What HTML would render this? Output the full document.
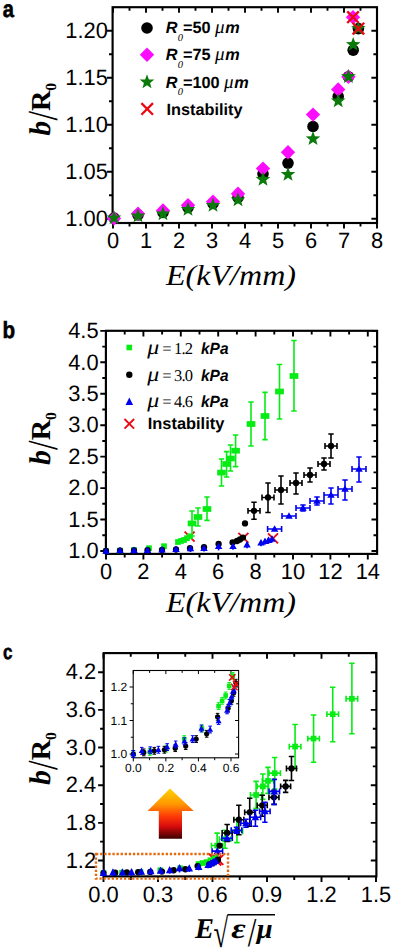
<!DOCTYPE html>
<html lang="en"><head><meta charset="utf-8"><title>Figure</title>
<style>html,body{margin:0;padding:0;background:#fff}svg{display:block;text-rendering:geometricPrecision}</style></head><body>
<svg width="400" height="951" viewBox="0 0 400 951">
<defs><linearGradient id="ag" x1="0" y1="0" x2="0" y2="1"><stop offset="0" stop-color="#ffd200"/><stop offset="0.30" stop-color="#ff9a00"/><stop offset="0.55" stop-color="#ff3a08"/><stop offset="0.75" stop-color="#d80c0c"/><stop offset="1" stop-color="#3a0000"/></linearGradient></defs>
<rect width="400" height="951" fill="#fff"/>
<!-- panel a -->
<text x="2.8" y="17" font-family='"Liberation Sans", sans-serif' font-size="23.5" text-anchor="start" font-weight="bold" font-style="normal" textLength="11.2" lengthAdjust="spacingAndGlyphs" stroke="#000" stroke-width="0.55">a</text>
<rect x="112.6" y="7.2" width="264.4" height="215.8" fill="none" stroke="#000" stroke-width="2.15"/>
<path d="M113 223v5.6M113 7.2v5.6M146 223v5.6M146 7.2v5.6M179 223v5.6M179 7.2v5.6M212 223v5.6M212 7.2v5.6M245 223v5.6M245 7.2v5.6M278 223v5.6M278 7.2v5.6M311 223v5.6M311 7.2v5.6M344 223v5.6M344 7.2v5.6M377 223v5.6M377 7.2v5.6M129.5 223v3.6M129.5 7.2v3.6M162.5 223v3.6M162.5 7.2v3.6M195.5 223v3.6M195.5 7.2v3.6M228.5 223v3.6M228.5 7.2v3.6M261.5 223v3.6M261.5 7.2v3.6M294.5 223v3.6M294.5 7.2v3.6M327.5 223v3.6M327.5 7.2v3.6M360.5 223v3.6M360.5 7.2v3.6M112.6 218.75h-5.6M377 218.75h-5.6M112.6 171.75h-5.6M377 171.75h-5.6M112.6 124.75h-5.6M377 124.75h-5.6M112.6 77.75h-5.6M377 77.75h-5.6M112.6 30.75h-5.6M377 30.75h-5.6M112.6 195.25h-3.6M377 195.25h-3.6M112.6 148.25h-3.6M377 148.25h-3.6M112.6 101.25h-3.6M377 101.25h-3.6M112.6 54.25h-3.6M377 54.25h-3.6" stroke="#000" stroke-width="1.9" fill="none"/>
<text x="113" y="248.3" font-family='"Liberation Sans", sans-serif' font-size="22.2" text-anchor="middle" font-weight="normal" font-style="normal" textLength="12.16" lengthAdjust="spacingAndGlyphs">0</text>
<text x="146" y="248.3" font-family='"Liberation Sans", sans-serif' font-size="22.2" text-anchor="middle" font-weight="normal" font-style="normal" textLength="12.16" lengthAdjust="spacingAndGlyphs">1</text>
<text x="179" y="248.3" font-family='"Liberation Sans", sans-serif' font-size="22.2" text-anchor="middle" font-weight="normal" font-style="normal" textLength="12.16" lengthAdjust="spacingAndGlyphs">2</text>
<text x="212" y="248.3" font-family='"Liberation Sans", sans-serif' font-size="22.2" text-anchor="middle" font-weight="normal" font-style="normal" textLength="12.16" lengthAdjust="spacingAndGlyphs">3</text>
<text x="245" y="248.3" font-family='"Liberation Sans", sans-serif' font-size="22.2" text-anchor="middle" font-weight="normal" font-style="normal" textLength="12.16" lengthAdjust="spacingAndGlyphs">4</text>
<text x="278" y="248.3" font-family='"Liberation Sans", sans-serif' font-size="22.2" text-anchor="middle" font-weight="normal" font-style="normal" textLength="12.16" lengthAdjust="spacingAndGlyphs">5</text>
<text x="311" y="248.3" font-family='"Liberation Sans", sans-serif' font-size="22.2" text-anchor="middle" font-weight="normal" font-style="normal" textLength="12.16" lengthAdjust="spacingAndGlyphs">6</text>
<text x="344" y="248.3" font-family='"Liberation Sans", sans-serif' font-size="22.2" text-anchor="middle" font-weight="normal" font-style="normal" textLength="12.16" lengthAdjust="spacingAndGlyphs">7</text>
<text x="377" y="248.3" font-family='"Liberation Sans", sans-serif' font-size="22.2" text-anchor="middle" font-weight="normal" font-style="normal" textLength="12.16" lengthAdjust="spacingAndGlyphs">8</text>
<text x="107.8" y="225.95" font-family='"Liberation Sans", sans-serif' font-size="22.2" text-anchor="end" font-weight="normal" font-style="normal" textLength="42.55" lengthAdjust="spacingAndGlyphs">1.00</text>
<text x="107.8" y="178.95" font-family='"Liberation Sans", sans-serif' font-size="22.2" text-anchor="end" font-weight="normal" font-style="normal" textLength="42.55" lengthAdjust="spacingAndGlyphs">1.05</text>
<text x="107.8" y="131.95" font-family='"Liberation Sans", sans-serif' font-size="22.2" text-anchor="end" font-weight="normal" font-style="normal" textLength="42.55" lengthAdjust="spacingAndGlyphs">1.10</text>
<text x="107.8" y="84.95" font-family='"Liberation Sans", sans-serif' font-size="22.2" text-anchor="end" font-weight="normal" font-style="normal" textLength="42.55" lengthAdjust="spacingAndGlyphs">1.15</text>
<text x="107.8" y="37.95" font-family='"Liberation Sans", sans-serif' font-size="22.2" text-anchor="end" font-weight="normal" font-style="normal" textLength="42.55" lengthAdjust="spacingAndGlyphs">1.20</text>
<g transform="translate(49.6 108.7) rotate(-90)"><text x="-27" y="0" font-family='"Liberation Serif", serif' font-size="30" text-anchor="start" font-weight="bold" font-style="italic">b</text><text x="-11.9" y="7" font-family='"Liberation Serif", serif' font-size="42.7" text-anchor="start" font-weight="normal" font-style="normal" textLength="9.6" lengthAdjust="spacingAndGlyphs">/</text><text x="-2.2" y="0" font-family='"Liberation Serif", serif' font-size="27.5" text-anchor="start" font-weight="bold" font-style="normal" textLength="20.5" lengthAdjust="spacingAndGlyphs">R</text><text x="18" y="6.4" font-family='"Liberation Serif", serif' font-size="15.5" text-anchor="start" font-weight="bold" font-style="normal">0</text></g>
<text x="166" y="284.5" font-family='"Liberation Serif", serif' font-size="29" text-anchor="start" font-weight="normal" font-style="italic" textLength="130" lengthAdjust="spacingAndGlyphs">E(kV/mm)</text>
<circle cx="114" cy="218" r="5.8" fill="#000000"/>
<circle cx="138" cy="215" r="5.8" fill="#000000"/>
<circle cx="163" cy="212.5" r="5.8" fill="#000000"/>
<circle cx="188" cy="207.5" r="5.8" fill="#000000"/>
<circle cx="213" cy="203.5" r="5.8" fill="#000000"/>
<circle cx="238" cy="197.5" r="5.8" fill="#000000"/>
<circle cx="263" cy="173.8" r="5.8" fill="#000000"/>
<circle cx="288" cy="163.1" r="5.8" fill="#000000"/>
<circle cx="313" cy="126.5" r="5.8" fill="#000000"/>
<circle cx="338.2" cy="96.5" r="5.8" fill="#000000"/>
<circle cx="348.4" cy="76.7" r="5.8" fill="#000000"/>
<circle cx="353.2" cy="50.2" r="5.8" fill="#000000"/>
<circle cx="358.4" cy="28.6" r="5.8" fill="#000000"/>
<path d="M114 211.2L121.2 218.4L114 225.6L106.8 218.4Z" fill="#fc0cfc"/>
<path d="M138 206.6L145.2 213.8L138 221L130.8 213.8Z" fill="#fc0cfc"/>
<path d="M163 203.2L170.2 210.4L163 217.6L155.8 210.4Z" fill="#fc0cfc"/>
<path d="M188 198.1L195.2 205.3L188 212.5L180.8 205.3Z" fill="#fc0cfc"/>
<path d="M213 194.6L220.2 201.8L213 209L205.8 201.8Z" fill="#fc0cfc"/>
<path d="M238 186.6L245.2 193.8L238 201L230.8 193.8Z" fill="#fc0cfc"/>
<path d="M263 161.4L270.2 168.6L263 175.8L255.8 168.6Z" fill="#fc0cfc"/>
<path d="M288 145L295.2 152.2L288 159.4L280.8 152.2Z" fill="#fc0cfc"/>
<path d="M313 107.4L320.2 114.6L313 121.8L305.8 114.6Z" fill="#fc0cfc"/>
<path d="M338.2 82.3L345.4 89.5L338.2 96.7L331 89.5Z" fill="#fc0cfc"/>
<path d="M348.4 69.5L355.6 76.7L348.4 83.9L341.2 76.7Z" fill="#fc0cfc"/>
<path d="M353 10L360.2 17.2L353 24.4L345.8 17.2Z" fill="#fc0cfc"/>
<path d="M114 210.3L115.9 215.38L121.32 215.62L117.08 219L118.53 224.23L114 221.23L109.47 224.23L110.92 219L106.68 215.62L112.1 215.38Z" fill="#0a7a0a"/>
<path d="M138 208.3L139.9 213.38L145.32 213.62L141.08 217L142.53 222.23L138 219.23L133.47 222.23L134.92 217L130.68 213.62L136.1 213.38Z" fill="#0a7a0a"/>
<path d="M163 206.3L164.9 211.38L170.32 211.62L166.08 215L167.53 220.23L163 217.23L158.47 220.23L159.92 215L155.68 211.62L161.1 211.38Z" fill="#0a7a0a"/>
<path d="M188 201.8L189.9 206.88L195.32 207.12L191.08 210.5L192.53 215.73L188 212.73L183.47 215.73L184.92 210.5L180.68 207.12L186.1 206.88Z" fill="#0a7a0a"/>
<path d="M213 197.8L214.9 202.88L220.32 203.12L216.08 206.5L217.53 211.73L213 208.73L208.47 211.73L209.92 206.5L205.68 203.12L211.1 202.88Z" fill="#0a7a0a"/>
<path d="M238 192.3L239.9 197.38L245.32 197.62L241.08 201L242.53 206.23L238 203.23L233.47 206.23L234.92 201L230.68 197.62L236.1 197.38Z" fill="#0a7a0a"/>
<path d="M263 171.7L264.9 176.78L270.32 177.02L266.08 180.4L267.53 185.63L263 182.63L258.47 185.63L259.92 180.4L255.68 177.02L261.1 176.78Z" fill="#0a7a0a"/>
<path d="M288 166.8L289.9 171.88L295.32 172.12L291.08 175.5L292.53 180.73L288 177.73L283.47 180.73L284.92 175.5L280.68 172.12L286.1 171.88Z" fill="#0a7a0a"/>
<path d="M313 131.1L314.9 136.18L320.32 136.42L316.08 139.8L317.53 145.03L313 142.03L308.47 145.03L309.92 139.8L305.68 136.42L311.1 136.18Z" fill="#0a7a0a"/>
<path d="M338.2 93.3L340.1 98.38L345.52 98.62L341.28 102L342.73 107.23L338.2 104.23L333.67 107.23L335.12 102L330.88 98.62L336.3 98.38Z" fill="#0a7a0a"/>
<path d="M348.4 69L350.3 74.08L355.72 74.32L351.48 77.7L352.93 82.93L348.4 79.93L343.87 82.93L345.32 77.7L341.08 74.32L346.5 74.08Z" fill="#0a7a0a"/>
<path d="M353.2 36.9L355.1 41.98L360.52 42.22L356.28 45.6L357.73 50.83L353.2 47.83L348.67 50.83L350.12 45.6L345.88 42.22L351.3 41.98Z" fill="#0a7a0a"/>
<path d="M358.4 20.9L360.3 25.98L365.72 26.22L361.48 29.6L362.93 34.83L358.4 31.83L353.87 34.83L355.32 29.6L351.08 26.22L356.5 25.98Z" fill="#0a7a0a"/>
<path d="M347.2 11.4L358.8 23M347.2 23L358.8 11.4" stroke="#ea0a14" stroke-width="2.3" fill="none" stroke-linecap="butt"/>
<path d="M352.6 22.8L364.2 34.4M352.6 34.4L364.2 22.8" stroke="#ea0a14" stroke-width="2.3" fill="none" stroke-linecap="butt"/>
<circle cx="147" cy="28" r="5.8" fill="#000000"/>
<path d="M147 47.6L154.2 54.8L147 62L139.8 54.8Z" fill="#fc0cfc"/>
<path d="M147 74.3L148.9 79.38L154.32 79.62L150.08 83L151.53 88.23L147 85.23L142.47 88.23L143.92 83L139.68 79.62L145.1 79.38Z" fill="#0a7a0a"/>
<path d="M141.4 103.1L153 114.7M141.4 114.7L153 103.1" stroke="#ea0a14" stroke-width="2.3" fill="none" stroke-linecap="butt"/>
<text x="165.8" y="33.4" font-family='"Liberation Sans", sans-serif' font-size="16.3" text-anchor="start" font-weight="bold" font-style="italic">R</text><text x="177.8" y="40.8" font-family='"Liberation Serif", serif' font-size="10.5" text-anchor="start" font-weight="normal" font-style="italic">0</text><text x="183" y="33.4" font-family='"Liberation Sans", sans-serif' font-size="16.3" text-anchor="start" font-weight="bold" font-style="normal">=50</text><text x="215" y="33.4" font-family='"Liberation Serif", serif' font-size="19" text-anchor="start" font-weight="normal" font-style="italic">μ</text><text x="225.3" y="33.4" font-family='"Liberation Sans", sans-serif' font-size="16.3" text-anchor="start" font-weight="bold" font-style="italic">m</text>
<text x="165.8" y="60.4" font-family='"Liberation Sans", sans-serif' font-size="16.3" text-anchor="start" font-weight="bold" font-style="italic">R</text><text x="177.8" y="67.8" font-family='"Liberation Serif", serif' font-size="10.5" text-anchor="start" font-weight="normal" font-style="italic">0</text><text x="183" y="60.4" font-family='"Liberation Sans", sans-serif' font-size="16.3" text-anchor="start" font-weight="bold" font-style="normal">=75</text><text x="215" y="60.4" font-family='"Liberation Serif", serif' font-size="19" text-anchor="start" font-weight="normal" font-style="italic">μ</text><text x="225.3" y="60.4" font-family='"Liberation Sans", sans-serif' font-size="16.3" text-anchor="start" font-weight="bold" font-style="italic">m</text>
<text x="165.8" y="88" font-family='"Liberation Sans", sans-serif' font-size="16.3" text-anchor="start" font-weight="bold" font-style="italic">R</text><text x="177.8" y="95.4" font-family='"Liberation Serif", serif' font-size="10.5" text-anchor="start" font-weight="normal" font-style="italic">0</text><text x="183" y="88" font-family='"Liberation Sans", sans-serif' font-size="16.3" text-anchor="start" font-weight="bold" font-style="normal">=100</text><text x="224" y="88" font-family='"Liberation Serif", serif' font-size="19" text-anchor="start" font-weight="normal" font-style="italic">μ</text><text x="234.3" y="88" font-family='"Liberation Sans", sans-serif' font-size="16.3" text-anchor="start" font-weight="bold" font-style="italic">m</text>
<text x="166.5" y="114.6" font-family='"Liberation Sans", sans-serif' font-size="16.3" text-anchor="start" font-weight="bold" font-style="normal">Instability</text>
<!-- panel b -->
<text x="2.6" y="338" font-family='"Liberation Sans", sans-serif' font-size="23.5" text-anchor="start" font-weight="bold" font-style="normal" textLength="12.6" lengthAdjust="spacingAndGlyphs" stroke="#000" stroke-width="0.55">b</text>
<rect x="105.9" y="330.8" width="271.2" height="223.1" fill="none" stroke="#000" stroke-width="2.15"/>
<path d="M106 553.9v5.6M106 330.8v5.6M143.4 553.9v5.6M143.4 330.8v5.6M180.8 553.9v5.6M180.8 330.8v5.6M218.2 553.9v5.6M218.2 330.8v5.6M255.6 553.9v5.6M255.6 330.8v5.6M293 553.9v5.6M293 330.8v5.6M330.4 553.9v5.6M330.4 330.8v5.6M367.8 553.9v5.6M367.8 330.8v5.6M124.7 553.9v3.6M124.7 330.8v3.6M162.1 553.9v3.6M162.1 330.8v3.6M199.5 553.9v3.6M199.5 330.8v3.6M236.9 553.9v3.6M236.9 330.8v3.6M274.3 553.9v3.6M274.3 330.8v3.6M311.7 553.9v3.6M311.7 330.8v3.6M349.1 553.9v3.6M349.1 330.8v3.6M105.9 551h-5.6M377.1 551h-5.6M105.9 519.55h-5.6M377.1 519.55h-5.6M105.9 488.1h-5.6M377.1 488.1h-5.6M105.9 456.65h-5.6M377.1 456.65h-5.6M105.9 425.2h-5.6M377.1 425.2h-5.6M105.9 393.75h-5.6M377.1 393.75h-5.6M105.9 362.3h-5.6M377.1 362.3h-5.6M105.9 330.85h-5.6M377.1 330.85h-5.6M105.9 535.27h-3.6M377.1 535.27h-3.6M105.9 503.82h-3.6M377.1 503.82h-3.6M105.9 472.38h-3.6M377.1 472.38h-3.6M105.9 440.93h-3.6M377.1 440.93h-3.6M105.9 409.48h-3.6M377.1 409.48h-3.6M105.9 378.02h-3.6M377.1 378.02h-3.6M105.9 346.58h-3.6M377.1 346.58h-3.6" stroke="#000" stroke-width="1.9" fill="none"/>
<text x="106" y="579.2" font-family='"Liberation Sans", sans-serif' font-size="22.2" text-anchor="middle" font-weight="normal" font-style="normal" textLength="12.16" lengthAdjust="spacingAndGlyphs">0</text>
<text x="143.4" y="579.2" font-family='"Liberation Sans", sans-serif' font-size="22.2" text-anchor="middle" font-weight="normal" font-style="normal" textLength="12.16" lengthAdjust="spacingAndGlyphs">2</text>
<text x="180.8" y="579.2" font-family='"Liberation Sans", sans-serif' font-size="22.2" text-anchor="middle" font-weight="normal" font-style="normal" textLength="12.16" lengthAdjust="spacingAndGlyphs">4</text>
<text x="218.2" y="579.2" font-family='"Liberation Sans", sans-serif' font-size="22.2" text-anchor="middle" font-weight="normal" font-style="normal" textLength="12.16" lengthAdjust="spacingAndGlyphs">6</text>
<text x="255.6" y="579.2" font-family='"Liberation Sans", sans-serif' font-size="22.2" text-anchor="middle" font-weight="normal" font-style="normal" textLength="12.16" lengthAdjust="spacingAndGlyphs">8</text>
<text x="293" y="579.2" font-family='"Liberation Sans", sans-serif' font-size="22.2" text-anchor="middle" font-weight="normal" font-style="normal" textLength="24.32" lengthAdjust="spacingAndGlyphs">10</text>
<text x="330.4" y="579.2" font-family='"Liberation Sans", sans-serif' font-size="22.2" text-anchor="middle" font-weight="normal" font-style="normal" textLength="24.32" lengthAdjust="spacingAndGlyphs">12</text>
<text x="367.8" y="579.2" font-family='"Liberation Sans", sans-serif' font-size="22.2" text-anchor="middle" font-weight="normal" font-style="normal" textLength="24.32" lengthAdjust="spacingAndGlyphs">14</text>
<text x="98.6" y="558.2" font-family='"Liberation Sans", sans-serif' font-size="22.2" text-anchor="end" font-weight="normal" font-style="normal" textLength="30.4" lengthAdjust="spacingAndGlyphs">1.0</text>
<text x="98.6" y="526.75" font-family='"Liberation Sans", sans-serif' font-size="22.2" text-anchor="end" font-weight="normal" font-style="normal" textLength="30.4" lengthAdjust="spacingAndGlyphs">1.5</text>
<text x="98.6" y="495.3" font-family='"Liberation Sans", sans-serif' font-size="22.2" text-anchor="end" font-weight="normal" font-style="normal" textLength="30.4" lengthAdjust="spacingAndGlyphs">2.0</text>
<text x="98.6" y="463.85" font-family='"Liberation Sans", sans-serif' font-size="22.2" text-anchor="end" font-weight="normal" font-style="normal" textLength="30.4" lengthAdjust="spacingAndGlyphs">2.5</text>
<text x="98.6" y="432.4" font-family='"Liberation Sans", sans-serif' font-size="22.2" text-anchor="end" font-weight="normal" font-style="normal" textLength="30.4" lengthAdjust="spacingAndGlyphs">3.0</text>
<text x="98.6" y="400.95" font-family='"Liberation Sans", sans-serif' font-size="22.2" text-anchor="end" font-weight="normal" font-style="normal" textLength="30.4" lengthAdjust="spacingAndGlyphs">3.5</text>
<text x="98.6" y="369.5" font-family='"Liberation Sans", sans-serif' font-size="22.2" text-anchor="end" font-weight="normal" font-style="normal" textLength="30.4" lengthAdjust="spacingAndGlyphs">4.0</text>
<text x="98.6" y="338.05" font-family='"Liberation Sans", sans-serif' font-size="22.2" text-anchor="end" font-weight="normal" font-style="normal" textLength="30.4" lengthAdjust="spacingAndGlyphs">4.5</text>
<g transform="translate(49.6 438) rotate(-90)"><text x="-27" y="0" font-family='"Liberation Serif", serif' font-size="30" text-anchor="start" font-weight="bold" font-style="italic">b</text><text x="-11.9" y="7" font-family='"Liberation Serif", serif' font-size="42.7" text-anchor="start" font-weight="normal" font-style="normal" textLength="9.6" lengthAdjust="spacingAndGlyphs">/</text><text x="-2.2" y="0" font-family='"Liberation Serif", serif' font-size="27.5" text-anchor="start" font-weight="bold" font-style="normal" textLength="20.5" lengthAdjust="spacingAndGlyphs">R</text><text x="18" y="6.4" font-family='"Liberation Serif", serif' font-size="15.5" text-anchor="start" font-weight="bold" font-style="normal">0</text></g>
<text x="166" y="612" font-family='"Liberation Serif", serif' font-size="29" text-anchor="start" font-weight="normal" font-style="italic" textLength="130" lengthAdjust="spacingAndGlyphs">E(kV/mm)</text>
<path d="M184.6 531.6L194.6 541.6M184.6 541.6L194.6 531.6" stroke="#ea0a14" stroke-width="1.9" fill="none" stroke-linecap="butt"/>
<path d="M238.4 532.8L248.4 542.8M238.4 542.8L248.4 532.8" stroke="#ea0a14" stroke-width="1.9" fill="none" stroke-linecap="butt"/>
<path d="M268 533.4L278 543.4M268 543.4L278 533.4" stroke="#ea0a14" stroke-width="1.9" fill="none" stroke-linecap="butt"/>
<rect x="103.15" y="548.15" width="5.7" height="5.7" fill="#06ec14"/><rect x="117.15" y="547.75" width="5.7" height="5.7" fill="#06ec14"/><rect x="131.15" y="547.15" width="5.7" height="5.7" fill="#06ec14"/><rect x="146.15" y="545.35" width="5.7" height="5.7" fill="#06ec14"/><rect x="161.15" y="543.35" width="5.7" height="5.7" fill="#06ec14"/><rect x="175.15" y="539.15" width="5.7" height="5.7" fill="#06ec14"/><rect x="178.15" y="538.15" width="5.7" height="5.7" fill="#06ec14"/><rect x="181.15" y="537.15" width="5.7" height="5.7" fill="#06ec14"/><rect x="184.15" y="535.35" width="5.7" height="5.7" fill="#06ec14"/><rect x="187.15" y="533.45" width="5.7" height="5.7" fill="#06ec14"/><path d="M192 511L192 536M189.3 511L194.7 511M189.3 536L194.7 536" stroke="#06ec14" stroke-width="1.6" fill="none"/><rect x="187.7" y="520.55" width="8.6" height="5.7" fill="#06ec14"/><path d="M198 508L198 526M195.3 508L200.7 508M195.3 526L200.7 526" stroke="#06ec14" stroke-width="1.6" fill="none"/><rect x="193.7" y="514.15" width="8.6" height="5.7" fill="#06ec14"/><path d="M207 497L207 520.4M204.3 497L209.7 497M204.3 520.4L209.7 520.4" stroke="#06ec14" stroke-width="1.6" fill="none"/><rect x="202.7" y="506.15" width="8.6" height="5.7" fill="#06ec14"/><path d="M221.5 459L221.5 486M218.8 459L224.2 459M218.8 486L224.2 486" stroke="#06ec14" stroke-width="1.6" fill="none"/><rect x="217.2" y="469.75" width="8.6" height="5.7" fill="#06ec14"/><path d="M226.6 451.6L226.6 477M223.9 451.6L229.3 451.6M223.9 477L229.3 477" stroke="#06ec14" stroke-width="1.6" fill="none"/><rect x="222.3" y="461.15" width="8.6" height="5.7" fill="#06ec14"/><path d="M230.5 445L230.5 471M227.8 445L233.2 445M227.8 471L233.2 471" stroke="#06ec14" stroke-width="1.6" fill="none"/><rect x="226.2" y="455.65" width="8.6" height="5.7" fill="#06ec14"/><path d="M235.6 435L235.6 466.6M232.9 435L238.3 435M232.9 466.6L238.3 466.6" stroke="#06ec14" stroke-width="1.6" fill="none"/><rect x="231.3" y="447.85" width="8.6" height="5.7" fill="#06ec14"/><path d="M251 402L251 446M248.3 402L253.7 402M248.3 446L253.7 446" stroke="#06ec14" stroke-width="1.6" fill="none"/><rect x="246.6" y="421.15" width="8.8" height="5.7" fill="#06ec14"/><path d="M265 392.4L265 439.6M262.3 392.4L267.7 392.4M262.3 439.6L267.7 439.6" stroke="#06ec14" stroke-width="1.6" fill="none"/><rect x="260.6" y="413.15" width="8.8" height="5.7" fill="#06ec14"/><path d="M279.5 364.5L279.5 419M276.8 364.5L282.2 364.5M276.8 419L282.2 419" stroke="#06ec14" stroke-width="1.6" fill="none"/><rect x="275.1" y="388.65" width="8.8" height="5.7" fill="#06ec14"/><path d="M294 340.5L294 411M291.3 340.5L296.7 340.5M291.3 411L296.7 411" stroke="#06ec14" stroke-width="1.6" fill="none"/><rect x="289.6" y="373.15" width="8.8" height="5.7" fill="#06ec14"/>
<circle cx="106" cy="551" r="3.15" fill="#000000"/><circle cx="120" cy="550.7" r="3.15" fill="#000000"/><circle cx="134" cy="550.4" r="3.15" fill="#000000"/><circle cx="147.5" cy="550.2" r="3.15" fill="#000000"/><circle cx="162" cy="549.9" r="3.15" fill="#000000"/><circle cx="176" cy="549.5" r="3.15" fill="#000000"/><circle cx="190" cy="548.2" r="3.15" fill="#000000"/><circle cx="204" cy="547.2" r="3.15" fill="#000000"/><circle cx="218.6" cy="544" r="3.15" fill="#000000"/><circle cx="232.6" cy="542.4" r="3.15" fill="#000000"/><circle cx="237" cy="541" r="3.15" fill="#000000"/><circle cx="240" cy="539.5" r="3.15" fill="#000000"/><circle cx="243" cy="537.6" r="3.15" fill="#000000"/><circle cx="245" cy="523.4" r="3.15" fill="#000000"/><path d="M254 502.3L254 519.3M251.3 502.3L256.7 502.3M251.3 519.3L256.7 519.3M248 510.8L260 510.8M248 507.88L248 513.72M260 507.88L260 513.72" stroke="#000000" stroke-width="1.6" fill="none"/><circle cx="254" cy="510.8" r="3.15" fill="#000000"/><path d="M268 483L268 512.5M265.3 483L270.7 483M265.3 512.5L270.7 512.5M262 497.5L274 497.5M262 494.58L262 500.42M274 494.58L274 500.42" stroke="#000000" stroke-width="1.6" fill="none"/><circle cx="268" cy="497.5" r="3.15" fill="#000000"/><path d="M281 476L281 504M278.3 476L283.7 476M278.3 504L283.7 504M275 490L287 490M275 487.08L275 492.92M287 487.08L287 492.92" stroke="#000000" stroke-width="1.6" fill="none"/><circle cx="281" cy="490" r="3.15" fill="#000000"/><path d="M296 473L296 494M293.3 473L298.7 473M293.3 494L298.7 494M290 483L302 483M290 480.08L290 485.92M302 480.08L302 485.92" stroke="#000000" stroke-width="1.6" fill="none"/><circle cx="296" cy="483" r="3.15" fill="#000000"/><path d="M310 468L310 482M307.3 468L312.7 468M307.3 482L312.7 482M304 475L316 475M304 472.08L304 477.92M316 472.08L316 477.92" stroke="#000000" stroke-width="1.6" fill="none"/><circle cx="310" cy="475" r="3.15" fill="#000000"/><path d="M324 458L324 470M321.3 458L326.7 458M321.3 470L326.7 470M318 464L330 464M318 461.08L318 466.92M330 461.08L330 466.92" stroke="#000000" stroke-width="1.6" fill="none"/><circle cx="324" cy="464" r="3.15" fill="#000000"/><path d="M331 434L331 458M328.3 434L333.7 434M328.3 458L333.7 458M325 446L337 446M325 443.08L325 448.92M337 443.08L337 448.92" stroke="#000000" stroke-width="1.6" fill="none"/><circle cx="331" cy="446" r="3.15" fill="#000000"/>
<path d="M106 548.4L106 554.4M106 548.4L106 548.4M106 554.4L106 554.4" stroke="#0000f0" stroke-width="1.6" fill="none"/><path d="M106 547.29L109.75 553.69L102.25 553.69Z" fill="#0000f0"/><path d="M120 547.8L120 553.8M120 547.8L120 547.8M120 553.8L120 553.8" stroke="#0000f0" stroke-width="1.6" fill="none"/><path d="M120 546.69L123.75 553.09L116.25 553.09Z" fill="#0000f0"/><path d="M134 547.7L134 553.7M134 547.7L134 547.7M134 553.7L134 553.7" stroke="#0000f0" stroke-width="1.6" fill="none"/><path d="M134 546.59L137.75 552.99L130.25 552.99Z" fill="#0000f0"/><path d="M147.5 547.6L147.5 553.6M147.5 547.6L147.5 547.6M147.5 553.6L147.5 553.6" stroke="#0000f0" stroke-width="1.6" fill="none"/><path d="M147.5 546.49L151.25 552.89L143.75 552.89Z" fill="#0000f0"/><path d="M162 547.1L162 553.1M162 547.1L162 547.1M162 553.1L162 553.1" stroke="#0000f0" stroke-width="1.6" fill="none"/><path d="M162 545.99L165.75 552.39L158.25 552.39Z" fill="#0000f0"/><path d="M176 546.6L176 552.6M176 546.6L176 546.6M176 552.6L176 552.6" stroke="#0000f0" stroke-width="1.6" fill="none"/><path d="M176 545.49L179.75 551.89L172.25 551.89Z" fill="#0000f0"/><path d="M190.5 546L190.5 552M190.5 546L190.5 546M190.5 552L190.5 552" stroke="#0000f0" stroke-width="1.6" fill="none"/><path d="M190.5 544.89L194.25 551.29L186.75 551.29Z" fill="#0000f0"/><path d="M204 545.6L204 551.6M204 545.6L204 545.6M204 551.6L204 551.6" stroke="#0000f0" stroke-width="1.6" fill="none"/><path d="M204 544.49L207.75 550.89L200.25 550.89Z" fill="#0000f0"/><path d="M218.6 543.6L218.6 550.4M218.6 543.6L218.6 543.6M218.6 550.4L218.6 550.4" stroke="#0000f0" stroke-width="1.6" fill="none"/><path d="M218.6 542.49L222.35 548.89L214.85 548.89Z" fill="#0000f0"/><path d="M233 543.8L233 549.8M233 543.8L233 543.8M233 549.8L233 549.8" stroke="#0000f0" stroke-width="1.6" fill="none"/><path d="M233 542.69L236.75 549.09L229.25 549.09Z" fill="#0000f0"/><path d="M247 542.2L247 548.2M247 542.2L247 542.2M247 548.2L247 548.2" stroke="#0000f0" stroke-width="1.6" fill="none"/><path d="M247 541.09L250.75 547.49L243.25 547.49Z" fill="#0000f0"/><path d="M261 540.2L261 546.2M261 540.2L261 540.2M261 546.2L261 546.2" stroke="#0000f0" stroke-width="1.6" fill="none"/><path d="M261 539.09L264.75 545.49L257.25 545.49Z" fill="#0000f0"/><path d="M265 538.8L265 544.8M265 538.8L265 538.8M265 544.8L265 544.8" stroke="#0000f0" stroke-width="1.6" fill="none"/><path d="M265 537.69L268.75 544.09L261.25 544.09Z" fill="#0000f0"/><path d="M268.5 537.6L268.5 543.6M268.5 537.6L268.5 537.6M268.5 543.6L268.5 543.6" stroke="#0000f0" stroke-width="1.6" fill="none"/><path d="M268.5 536.49L272.25 542.89L264.75 542.89Z" fill="#0000f0"/><path d="M272 536.4L272 542.4M272 536.4L272 536.4M272 542.4L272 542.4" stroke="#0000f0" stroke-width="1.6" fill="none"/><path d="M272 535.29L275.75 541.69L268.25 541.69Z" fill="#0000f0"/><path d="M267.6 529L281.6 529M267.6 526.08L267.6 531.92M281.6 526.08L281.6 531.92" stroke="#0000f0" stroke-width="1.6" fill="none"/><path d="M274.6 525.29L278.35 531.69L270.85 531.69Z" fill="#0000f0"/><path d="M282 516L296 516M282 513.08L282 518.92M296 513.08L296 518.92" stroke="#0000f0" stroke-width="1.6" fill="none"/><path d="M289 512.29L292.75 518.69L285.25 518.69Z" fill="#0000f0"/><path d="M303 505L303 511M300.3 505L305.7 505M300.3 511L305.7 511M296 508L310 508M296 505.08L296 510.92M310 505.08L310 510.92" stroke="#0000f0" stroke-width="1.6" fill="none"/><path d="M303 504.29L306.75 510.69L299.25 510.69Z" fill="#0000f0"/><path d="M317 497L317 505M314.3 497L319.7 497M314.3 505L319.7 505M310 501L324 501M310 498.08L310 503.92M324 498.08L324 503.92" stroke="#0000f0" stroke-width="1.6" fill="none"/><path d="M317 497.29L320.75 503.69L313.25 503.69Z" fill="#0000f0"/><path d="M331 488L331 504M328.3 488L333.7 488M328.3 504L333.7 504M324 495L338 495M324 492.08L324 497.92M338 492.08L338 497.92" stroke="#0000f0" stroke-width="1.6" fill="none"/><path d="M331 491.29L334.75 497.69L327.25 497.69Z" fill="#0000f0"/><path d="M345 480L345 500M342.3 480L347.7 480M342.3 500L347.7 500M338 489L352 489M338 486.08L338 491.92M352 486.08L352 491.92" stroke="#0000f0" stroke-width="1.6" fill="none"/><path d="M345 485.29L348.75 491.69L341.25 491.69Z" fill="#0000f0"/><path d="M359 457L359 482M356.3 457L361.7 457M356.3 482L361.7 482M352 469L366 469M352 466.08L352 471.92M366 466.08L366 471.92" stroke="#0000f0" stroke-width="1.6" fill="none"/><path d="M359 465.29L362.75 471.69L355.25 471.69Z" fill="#0000f0"/>
<rect x="126.5" y="344.7" width="5.6" height="5.6" fill="#06ec14"/>
<circle cx="129.3" cy="374.8" r="3.2" fill="#000000"/>
<path d="M129.3 397.45L133.05 404.95L125.55 404.95Z" fill="#0000f0"/>
<path d="M124.5 419L134.1 428.6M124.5 428.6L134.1 419" stroke="#ea0a14" stroke-width="1.9" fill="none" stroke-linecap="butt"/>
<text x="147.3" y="353.8" font-family='"Liberation Serif", serif' font-size="20.5" text-anchor="start" font-weight="normal" font-style="italic" textLength="12" lengthAdjust="spacingAndGlyphs">μ</text><text x="162.3" y="353.8" font-family='"Liberation Serif", serif' font-size="16.5" text-anchor="start" font-weight="normal" font-style="normal" textLength="30.6" lengthAdjust="spacing">= 1.2</text><text x="201" y="353.8" font-family='"Liberation Sans", sans-serif' font-size="16.3" text-anchor="start" font-weight="bold" font-style="italic" textLength="27.5" lengthAdjust="spacingAndGlyphs">kPa</text>
<text x="147.3" y="380.7" font-family='"Liberation Serif", serif' font-size="20.5" text-anchor="start" font-weight="normal" font-style="italic" textLength="12" lengthAdjust="spacingAndGlyphs">μ</text><text x="162.3" y="380.7" font-family='"Liberation Serif", serif' font-size="16.5" text-anchor="start" font-weight="normal" font-style="normal" textLength="30.6" lengthAdjust="spacing">= 3.0</text><text x="201" y="380.7" font-family='"Liberation Sans", sans-serif' font-size="16.3" text-anchor="start" font-weight="bold" font-style="italic" textLength="27.5" lengthAdjust="spacingAndGlyphs">kPa</text>
<text x="147.3" y="407.2" font-family='"Liberation Serif", serif' font-size="20.5" text-anchor="start" font-weight="normal" font-style="italic" textLength="12" lengthAdjust="spacingAndGlyphs">μ</text><text x="162.3" y="407.2" font-family='"Liberation Serif", serif' font-size="16.5" text-anchor="start" font-weight="normal" font-style="normal" textLength="30.6" lengthAdjust="spacing">= 4.6</text><text x="201" y="407.2" font-family='"Liberation Sans", sans-serif' font-size="16.3" text-anchor="start" font-weight="bold" font-style="italic" textLength="27.5" lengthAdjust="spacingAndGlyphs">kPa</text>
<text x="147.8" y="428.7" font-family='"Liberation Sans", sans-serif' font-size="16.4" text-anchor="start" font-weight="bold" font-style="normal">Instability</text>
<!-- panel c -->
<text x="3" y="658.8" font-family='"Liberation Sans", sans-serif' font-size="21" text-anchor="start" font-weight="bold" font-style="normal" textLength="9.5" lengthAdjust="spacingAndGlyphs" stroke="#000" stroke-width="0.55">c</text>
<rect x="103.7" y="653.1" width="272.7" height="223.3" fill="none" stroke="#000" stroke-width="2.15"/>
<path d="M103.5 876.4v5.6M103.5 653.1v5.6M158 876.4v5.6M158 653.1v5.6M212.5 876.4v5.6M212.5 653.1v5.6M267 876.4v5.6M267 653.1v5.6M321.5 876.4v5.6M321.5 653.1v5.6M376 876.4v5.6M376 653.1v5.6M130.75 876.4v3.6M130.75 653.1v3.6M185.25 876.4v3.6M185.25 653.1v3.6M239.75 876.4v3.6M239.75 653.1v3.6M294.25 876.4v3.6M294.25 653.1v3.6M348.75 876.4v3.6M348.75 653.1v3.6M103.7 860.5h-5.6M376.4 860.5h-5.6M103.7 822.85h-5.6M376.4 822.85h-5.6M103.7 785.2h-5.6M376.4 785.2h-5.6M103.7 747.55h-5.6M376.4 747.55h-5.6M103.7 709.9h-5.6M376.4 709.9h-5.6M103.7 672.25h-5.6M376.4 672.25h-5.6M103.7 841.67h-3.6M376.4 841.67h-3.6M103.7 804.02h-3.6M376.4 804.02h-3.6M103.7 766.38h-3.6M376.4 766.38h-3.6M103.7 728.72h-3.6M376.4 728.72h-3.6M103.7 691.07h-3.6M376.4 691.07h-3.6" stroke="#000" stroke-width="1.9" fill="none"/>
<text x="103.5" y="901.6" font-family='"Liberation Sans", sans-serif' font-size="22.2" text-anchor="middle" font-weight="normal" font-style="normal" textLength="30.4" lengthAdjust="spacingAndGlyphs">0.0</text>
<text x="158" y="901.6" font-family='"Liberation Sans", sans-serif' font-size="22.2" text-anchor="middle" font-weight="normal" font-style="normal" textLength="30.4" lengthAdjust="spacingAndGlyphs">0.3</text>
<text x="212.5" y="901.6" font-family='"Liberation Sans", sans-serif' font-size="22.2" text-anchor="middle" font-weight="normal" font-style="normal" textLength="30.4" lengthAdjust="spacingAndGlyphs">0.6</text>
<text x="267" y="901.6" font-family='"Liberation Sans", sans-serif' font-size="22.2" text-anchor="middle" font-weight="normal" font-style="normal" textLength="30.4" lengthAdjust="spacingAndGlyphs">0.9</text>
<text x="321.5" y="901.6" font-family='"Liberation Sans", sans-serif' font-size="22.2" text-anchor="middle" font-weight="normal" font-style="normal" textLength="30.4" lengthAdjust="spacingAndGlyphs">1.2</text>
<text x="376" y="901.6" font-family='"Liberation Sans", sans-serif' font-size="22.2" text-anchor="middle" font-weight="normal" font-style="normal" textLength="30.4" lengthAdjust="spacingAndGlyphs">1.5</text>
<text x="96.1" y="867.7" font-family='"Liberation Sans", sans-serif' font-size="22.2" text-anchor="end" font-weight="normal" font-style="normal" textLength="30.4" lengthAdjust="spacingAndGlyphs">1.2</text>
<text x="96.1" y="830.05" font-family='"Liberation Sans", sans-serif' font-size="22.2" text-anchor="end" font-weight="normal" font-style="normal" textLength="30.4" lengthAdjust="spacingAndGlyphs">1.8</text>
<text x="96.1" y="792.4" font-family='"Liberation Sans", sans-serif' font-size="22.2" text-anchor="end" font-weight="normal" font-style="normal" textLength="30.4" lengthAdjust="spacingAndGlyphs">2.4</text>
<text x="96.1" y="754.75" font-family='"Liberation Sans", sans-serif' font-size="22.2" text-anchor="end" font-weight="normal" font-style="normal" textLength="30.4" lengthAdjust="spacingAndGlyphs">3.0</text>
<text x="96.1" y="717.1" font-family='"Liberation Sans", sans-serif' font-size="22.2" text-anchor="end" font-weight="normal" font-style="normal" textLength="30.4" lengthAdjust="spacingAndGlyphs">3.6</text>
<text x="96.1" y="679.45" font-family='"Liberation Sans", sans-serif' font-size="22.2" text-anchor="end" font-weight="normal" font-style="normal" textLength="30.4" lengthAdjust="spacingAndGlyphs">4.2</text>
<g transform="translate(49.6 758) rotate(-90)"><text x="-27" y="0" font-family='"Liberation Serif", serif' font-size="30" text-anchor="start" font-weight="bold" font-style="italic">b</text><text x="-11.9" y="7" font-family='"Liberation Serif", serif' font-size="42.7" text-anchor="start" font-weight="normal" font-style="normal" textLength="9.6" lengthAdjust="spacingAndGlyphs">/</text><text x="-2.2" y="0" font-family='"Liberation Serif", serif' font-size="27.5" text-anchor="start" font-weight="bold" font-style="normal" textLength="20.5" lengthAdjust="spacingAndGlyphs">R</text><text x="18" y="6.4" font-family='"Liberation Serif", serif' font-size="15.5" text-anchor="start" font-weight="bold" font-style="normal">0</text></g>
<text x="195" y="938" font-family='"Liberation Serif", serif' font-size="28.5" text-anchor="start" font-weight="bold" font-style="italic">E</text>
<text x="213.6" y="947" font-family='"Liberation Serif", serif' font-size="40.5" text-anchor="start" font-weight="normal" font-style="normal" textLength="14.6" lengthAdjust="spacingAndGlyphs">√</text>
<path d="M227.4 914.7L275 914.7" stroke="#000" stroke-width="1.5" fill="none"/>
<text x="231.2" y="938" font-family='"Liberation Serif", serif' font-size="28.5" text-anchor="start" font-weight="bold" font-style="italic" textLength="14.5" lengthAdjust="spacingAndGlyphs">ε</text>
<text x="247.8" y="946" font-family='"Liberation Serif", serif' font-size="41" text-anchor="start" font-weight="normal" font-style="normal" textLength="8.6" lengthAdjust="spacingAndGlyphs">/</text>
<text x="256.8" y="938" font-family='"Liberation Serif", serif' font-size="28.5" text-anchor="start" font-weight="bold" font-style="italic">μ</text>
<path d="M208.96 853.71L218.96 863.71M208.96 863.71L218.96 853.71" stroke="#ea0a14" stroke-width="1.9" fill="none" stroke-linecap="butt"/>
<path d="M213.3 854.9L223.3 864.9M213.3 864.9L223.3 854.9" stroke="#ea0a14" stroke-width="1.9" fill="none" stroke-linecap="butt"/>
<path d="M211.26 855.5L221.26 865.5M211.26 865.5L221.26 855.5" stroke="#ea0a14" stroke-width="1.9" fill="none" stroke-linecap="butt"/>
<rect x="100.65" y="870.2" width="5.7" height="5.7" fill="#06ec14"/><rect x="119.15" y="869.8" width="5.7" height="5.7" fill="#06ec14"/><rect x="137.64" y="869.2" width="5.7" height="5.7" fill="#06ec14"/><rect x="157.46" y="867.41" width="5.7" height="5.7" fill="#06ec14"/><rect x="177.28" y="865.42" width="5.7" height="5.7" fill="#06ec14"/><rect x="195.78" y="861.24" width="5.7" height="5.7" fill="#06ec14"/><rect x="199.74" y="860.24" width="5.7" height="5.7" fill="#06ec14"/><rect x="203.71" y="859.24" width="5.7" height="5.7" fill="#06ec14"/><rect x="207.67" y="857.45" width="5.7" height="5.7" fill="#06ec14"/><rect x="211.63" y="855.56" width="5.7" height="5.7" fill="#06ec14"/><path d="M217.13 833.16L217.13 858.16M214.43 833.16L219.83 833.16M214.43 858.16L219.83 858.16M211.45 845.56L222.81 845.56M211.45 842.64L211.45 848.48M222.81 842.64L222.81 848.48" stroke="#06ec14" stroke-width="1.6" fill="none"/><rect x="214.28" y="842.71" width="5.7" height="5.7" fill="#06ec14"/><path d="M225.05 830.18L225.05 848.18M222.35 830.18L227.75 830.18M222.35 848.18L227.75 848.18M219.37 839.18L230.74 839.18M219.37 836.27L219.37 842.1M230.74 836.27L230.74 842.1" stroke="#06ec14" stroke-width="1.6" fill="none"/><rect x="222.2" y="836.33" width="5.7" height="5.7" fill="#06ec14"/><path d="M236.94 819.22L236.94 842.62M234.24 819.22L239.64 819.22M234.24 842.62L239.64 842.62M231.26 831.22L242.63 831.22M231.26 828.3L231.26 834.13M242.63 828.3L242.63 834.13" stroke="#06ec14" stroke-width="1.6" fill="none"/><rect x="234.09" y="828.37" width="5.7" height="5.7" fill="#06ec14"/><path d="M256.1 781.36L256.1 808.36M253.4 781.36L258.8 781.36M253.4 808.36L258.8 808.36M250.42 794.96L261.78 794.96M250.42 792.05L250.42 797.88M261.78 792.05L261.78 797.88" stroke="#06ec14" stroke-width="1.6" fill="none"/><rect x="253.25" y="792.11" width="5.7" height="5.7" fill="#06ec14"/><path d="M262.84 774L262.84 799.4M260.14 774L265.54 774M260.14 799.4L265.54 799.4M257.16 786.4L268.52 786.4M257.16 783.48L257.16 789.31M268.52 783.48L268.52 789.31" stroke="#06ec14" stroke-width="1.6" fill="none"/><rect x="259.99" y="783.55" width="5.7" height="5.7" fill="#06ec14"/><path d="M267.99 767.42L267.99 793.42M265.29 767.42L270.69 767.42M265.29 793.42L270.69 793.42M262.31 780.92L273.68 780.92M262.31 778L262.31 783.83M273.68 778L273.68 783.83" stroke="#06ec14" stroke-width="1.6" fill="none"/><rect x="265.14" y="778.07" width="5.7" height="5.7" fill="#06ec14"/><path d="M274.73 757.45L274.73 789.05M272.03 757.45L277.43 757.45M272.03 789.05L277.43 789.05M269.05 773.15L280.41 773.15M269.05 770.23L269.05 776.06M280.41 770.23L280.41 776.06" stroke="#06ec14" stroke-width="1.6" fill="none"/><rect x="271.88" y="770.3" width="5.7" height="5.7" fill="#06ec14"/><path d="M295.08 724.55L295.08 768.55M292.38 724.55L297.78 724.55M292.38 768.55L297.78 768.55M289.27 746.55L300.89 746.55M289.27 743.64L289.27 749.47M300.89 743.64L300.89 749.47" stroke="#06ec14" stroke-width="1.6" fill="none"/><rect x="292.23" y="743.7" width="5.7" height="5.7" fill="#06ec14"/><path d="M313.58 714.99L313.58 762.19M310.88 714.99L316.28 714.99M310.88 762.19L316.28 762.19M307.76 738.59L319.39 738.59M307.76 735.67L307.76 741.5M319.39 735.67L319.39 741.5" stroke="#06ec14" stroke-width="1.6" fill="none"/><rect x="310.73" y="735.74" width="5.7" height="5.7" fill="#06ec14"/><path d="M332.73 687.18L332.73 741.68M330.03 687.18L335.43 687.18M330.03 741.68L335.43 741.68M326.92 714.18L338.55 714.18M326.92 711.27L326.92 717.1M338.55 711.27L338.55 717.1" stroke="#06ec14" stroke-width="1.6" fill="none"/><rect x="329.88" y="711.33" width="5.7" height="5.7" fill="#06ec14"/><path d="M351.89 663.24L351.89 733.74M349.19 663.24L354.59 663.24M349.19 733.74L354.59 733.74M346.08 698.74L357.71 698.74M346.08 695.83L346.08 701.66M357.71 695.83L357.71 701.66" stroke="#06ec14" stroke-width="1.6" fill="none"/><rect x="349.04" y="695.89" width="5.7" height="5.7" fill="#06ec14"/>
<circle cx="103.5" cy="873.05" r="3.15" fill="#000000"/><circle cx="115.2" cy="872.75" r="3.15" fill="#000000"/><circle cx="126.89" cy="872.45" r="3.15" fill="#000000"/><circle cx="138.17" cy="872.25" r="3.15" fill="#000000"/><circle cx="150.29" cy="871.95" r="3.15" fill="#000000"/><circle cx="161.98" cy="871.56" r="3.15" fill="#000000"/><circle cx="173.68" cy="870.26" r="3.15" fill="#000000"/><circle cx="185.38" cy="869.27" r="3.15" fill="#000000"/><circle cx="197.58" cy="866.08" r="3.15" fill="#000000"/><circle cx="209.27" cy="864.48" r="3.15" fill="#000000"/><circle cx="212.95" cy="863.09" r="3.15" fill="#000000"/><circle cx="215.46" cy="861.6" r="3.15" fill="#000000"/><circle cx="217.96" cy="859.7" r="3.15" fill="#000000"/><circle cx="219.63" cy="845.56" r="3.15" fill="#000000"/><path d="M227.15 824.51L227.15 841.51M224.45 824.51L229.85 824.51M224.45 841.51L229.85 841.51M222.14 833.01L232.17 833.01M222.14 830.09L222.14 835.93M232.17 830.09L232.17 835.93" stroke="#000000" stroke-width="1.6" fill="none"/><circle cx="227.15" cy="833.01" r="3.15" fill="#000000"/><path d="M238.85 805.26L238.85 834.76M236.15 805.26L241.55 805.26M236.15 834.76L241.55 834.76M233.84 819.76L243.86 819.76M233.84 816.85L233.84 822.68M243.86 816.85L243.86 822.68" stroke="#000000" stroke-width="1.6" fill="none"/><circle cx="238.85" cy="819.76" r="3.15" fill="#000000"/><path d="M249.71 798.29L249.71 826.29M247.01 798.29L252.41 798.29M247.01 826.29L252.41 826.29M244.7 812.29L254.72 812.29M244.7 809.38L244.7 815.21M254.72 809.38L254.72 815.21" stroke="#000000" stroke-width="1.6" fill="none"/><circle cx="249.71" cy="812.29" r="3.15" fill="#000000"/><path d="M262.24 795.32L262.24 816.32M259.54 795.32L264.94 795.32M259.54 816.32L264.94 816.32M257.23 805.32L267.26 805.32M257.23 802.4L257.23 808.24M267.26 802.4L267.26 808.24" stroke="#000000" stroke-width="1.6" fill="none"/><circle cx="262.24" cy="805.32" r="3.15" fill="#000000"/><path d="M273.94 790.35L273.94 804.35M271.24 790.35L276.64 790.35M271.24 804.35L276.64 804.35M268.93 797.35L278.95 797.35M268.93 794.44L268.93 800.27M278.95 794.44L278.95 800.27" stroke="#000000" stroke-width="1.6" fill="none"/><circle cx="273.94" cy="797.35" r="3.15" fill="#000000"/><path d="M285.64 780.4L285.64 792.4M282.94 780.4L288.34 780.4M282.94 792.4L288.34 792.4M280.62 786.4L290.65 786.4M280.62 783.48L280.62 789.31M290.65 783.48L290.65 789.31" stroke="#000000" stroke-width="1.6" fill="none"/><circle cx="285.64" cy="786.4" r="3.15" fill="#000000"/><path d="M291.48 756.47L291.48 780.47M288.78 756.47L294.18 756.47M288.78 780.47L294.18 780.47M286.47 768.47L296.5 768.47M286.47 765.55L286.47 771.38M296.5 765.55L296.5 771.38" stroke="#000000" stroke-width="1.6" fill="none"/><circle cx="291.48" cy="768.47" r="3.15" fill="#000000"/>
<path d="M103.5 870.45L103.5 876.45M103.5 870.45L103.5 870.45M103.5 876.45L103.5 876.45" stroke="#0000f0" stroke-width="1.6" fill="none"/><path d="M103.5 868.87L107.25 876.07L99.75 876.07Z" fill="#0000f0"/><path d="M112.95 869.85L112.95 875.85M112.95 869.85L112.95 869.85M112.95 875.85L112.95 875.85" stroke="#0000f0" stroke-width="1.6" fill="none"/><path d="M112.95 868.28L116.7 875.48L109.2 875.48Z" fill="#0000f0"/><path d="M122.41 869.75L122.41 875.75M122.41 869.75L122.41 869.75M122.41 875.75L122.41 875.75" stroke="#0000f0" stroke-width="1.6" fill="none"/><path d="M122.41 868.18L126.16 875.38L118.66 875.38Z" fill="#0000f0"/><path d="M131.52 869.65L131.52 875.65M131.52 869.65L131.52 869.65M131.52 875.65L131.52 875.65" stroke="#0000f0" stroke-width="1.6" fill="none"/><path d="M131.52 868.08L135.27 875.28L127.77 875.28Z" fill="#0000f0"/><path d="M141.31 869.16L141.31 875.16M141.31 869.16L141.31 869.16M141.31 875.16L141.31 875.16" stroke="#0000f0" stroke-width="1.6" fill="none"/><path d="M141.31 867.58L145.06 874.78L137.56 874.78Z" fill="#0000f0"/><path d="M150.76 868.66L150.76 874.66M150.76 868.66L150.76 868.66M150.76 874.66L150.76 874.66" stroke="#0000f0" stroke-width="1.6" fill="none"/><path d="M150.76 867.08L154.51 874.28L147.01 874.28Z" fill="#0000f0"/><path d="M160.55 868.06L160.55 874.06M160.55 868.06L160.55 868.06M160.55 874.06L160.55 874.06" stroke="#0000f0" stroke-width="1.6" fill="none"/><path d="M160.55 866.48L164.3 873.68L156.8 873.68Z" fill="#0000f0"/><path d="M169.67 867.66L169.67 873.66M169.67 867.66L169.67 867.66M169.67 873.66L169.67 873.66" stroke="#0000f0" stroke-width="1.6" fill="none"/><path d="M169.67 866.09L173.42 873.29L165.92 873.29Z" fill="#0000f0"/><path d="M179.53 865.67L179.53 872.47M179.53 865.67L179.53 865.67M179.53 872.47L179.53 872.47" stroke="#0000f0" stroke-width="1.6" fill="none"/><path d="M179.53 864.09L183.28 871.29L175.78 871.29Z" fill="#0000f0"/><path d="M189.25 865.87L189.25 871.87M189.25 865.87L189.25 865.87M189.25 871.87L189.25 871.87" stroke="#0000f0" stroke-width="1.6" fill="none"/><path d="M189.25 864.29L193 871.49L185.5 871.49Z" fill="#0000f0"/><path d="M198.7 864.27L198.7 870.27M198.7 864.27L198.7 864.27M198.7 870.27L198.7 870.27" stroke="#0000f0" stroke-width="1.6" fill="none"/><path d="M198.7 862.7L202.45 869.9L194.95 869.9Z" fill="#0000f0"/><path d="M208.15 862.28L208.15 868.28M208.15 862.28L208.15 862.28M208.15 868.28L208.15 868.28" stroke="#0000f0" stroke-width="1.6" fill="none"/><path d="M208.15 860.71L211.9 867.91L204.4 867.91Z" fill="#0000f0"/><path d="M210.86 860.89L210.86 866.89M210.86 860.89L210.86 860.89M210.86 866.89L210.86 866.89" stroke="#0000f0" stroke-width="1.6" fill="none"/><path d="M210.86 859.31L214.61 866.51L207.11 866.51Z" fill="#0000f0"/><path d="M213.22 859.69L213.22 865.69M213.22 859.69L213.22 859.69M213.22 865.69L213.22 865.69" stroke="#0000f0" stroke-width="1.6" fill="none"/><path d="M213.22 858.12L216.97 865.32L209.47 865.32Z" fill="#0000f0"/><path d="M215.58 858.5L215.58 864.5M215.58 858.5L215.58 858.5M215.58 864.5L215.58 864.5" stroke="#0000f0" stroke-width="1.6" fill="none"/><path d="M215.58 856.92L219.33 864.12L211.83 864.12Z" fill="#0000f0"/><path d="M212.09 851.14L222.59 851.14M212.09 848.22L212.09 854.05M222.59 848.22L222.59 854.05" stroke="#0000f0" stroke-width="1.6" fill="none"/><path d="M217.34 846.96L221.09 854.16L213.59 854.16Z" fill="#0000f0"/><path d="M221.81 838.19L232.31 838.19M221.81 835.27L221.81 841.1M232.31 835.27L232.31 841.1" stroke="#0000f0" stroke-width="1.6" fill="none"/><path d="M227.06 834.01L230.81 841.21L223.31 841.21Z" fill="#0000f0"/><path d="M236.51 827.22L236.51 833.22M233.81 827.22L239.21 827.22M233.81 833.22L239.21 833.22M231.26 830.22L241.76 830.22M231.26 827.3L231.26 833.14M241.76 827.3L241.76 833.14" stroke="#0000f0" stroke-width="1.6" fill="none"/><path d="M236.51 826.04L240.26 833.24L232.76 833.24Z" fill="#0000f0"/><path d="M245.97 819.25L245.97 827.25M243.27 819.25L248.67 819.25M243.27 827.25L248.67 827.25M240.72 823.25L251.22 823.25M240.72 820.33L240.72 826.16M251.22 820.33L251.22 826.16" stroke="#0000f0" stroke-width="1.6" fill="none"/><path d="M245.97 819.07L249.72 826.27L242.22 826.27Z" fill="#0000f0"/><path d="M255.42 810.27L255.42 826.27M252.72 810.27L258.12 810.27M252.72 826.27L258.12 826.27M250.17 817.27L260.67 817.27M250.17 814.36L250.17 820.19M260.67 814.36L260.67 820.19" stroke="#0000f0" stroke-width="1.6" fill="none"/><path d="M255.42 813.1L259.17 820.3L251.67 820.3Z" fill="#0000f0"/><path d="M264.87 802.3L264.87 822.3M262.17 802.3L267.57 802.3M262.17 822.3L267.57 822.3M259.62 811.3L270.12 811.3M259.62 808.38L259.62 814.21M270.12 808.38L270.12 814.21" stroke="#0000f0" stroke-width="1.6" fill="none"/><path d="M264.87 807.12L268.62 814.32L261.12 814.32Z" fill="#0000f0"/><path d="M274.32 779.38L274.32 804.38M271.62 779.38L277.02 779.38M271.62 804.38L277.02 804.38M269.07 791.38L279.57 791.38M269.07 788.46L269.07 794.29M279.57 788.46L279.57 794.29" stroke="#0000f0" stroke-width="1.6" fill="none"/><path d="M274.32 787.2L278.07 794.4L270.57 794.4Z" fill="#0000f0"/>
<rect x="96" y="854" width="132" height="24.6" fill="none" stroke="#e5690f" stroke-width="2.4" stroke-dasharray="2.3 1.8"/>
<path d="M170 788.6L193.8 811L182 811L182 838.8L158.8 838.8L158.8 811L147.5 811Z" fill="url(#ag)"/>
<rect x="133.2" y="670.5" width="105.4" height="87.3" fill="#fff" stroke="#000" stroke-width="1.1"/>
<path d="M133.3 757.8v3.6M133.3 670.5v3.6M165.86 757.8v3.6M165.86 670.5v3.6M198.42 757.8v3.6M198.42 670.5v3.6M230.98 757.8v3.6M230.98 670.5v3.6M149.58 757.8v2.4M149.58 670.5v2.4M182.14 757.8v2.4M182.14 670.5v2.4M214.7 757.8v2.4M214.7 670.5v2.4M133.2 754h-3.6M238.6 754h-3.6M133.2 720.5h-3.6M238.6 720.5h-3.6M133.2 687h-3.6M238.6 687h-3.6M133.2 737.25h-2.4M238.6 737.25h-2.4M133.2 703.75h-2.4M238.6 703.75h-2.4" stroke="#000" stroke-width="1" fill="none"/>
<text x="133.3" y="772.2" font-family='"Liberation Sans", sans-serif' font-size="12" text-anchor="middle" font-weight="normal" font-style="normal">0.0</text>
<text x="165.86" y="772.2" font-family='"Liberation Sans", sans-serif' font-size="12" text-anchor="middle" font-weight="normal" font-style="normal">0.2</text>
<text x="198.42" y="772.2" font-family='"Liberation Sans", sans-serif' font-size="12" text-anchor="middle" font-weight="normal" font-style="normal">0.4</text>
<text x="230.98" y="772.2" font-family='"Liberation Sans", sans-serif' font-size="12" text-anchor="middle" font-weight="normal" font-style="normal">0.6</text>
<text x="127.3" y="758.3" font-family='"Liberation Sans", sans-serif' font-size="12" text-anchor="end" font-weight="normal" font-style="normal">1.0</text>
<text x="127.3" y="724.8" font-family='"Liberation Sans", sans-serif' font-size="12" text-anchor="end" font-weight="normal" font-style="normal">1.1</text>
<text x="127.3" y="691.3" font-family='"Liberation Sans", sans-serif' font-size="12" text-anchor="end" font-weight="normal" font-style="normal">1.2</text>
<clipPath id="ic"><rect x="129.2" y="671.5" width="109.4" height="90.3"/></clipPath>
<g clip-path="url(#ic)">
<path d="M133.3 750.59L133.3 757.41M131.5 750.59L135.1 750.59M131.5 757.41L135.1 757.41" stroke="#06ec14" stroke-width="1" fill="none"/><rect x="131" y="751.7" width="4.6" height="4.6" fill="#06ec14"/><path d="M149.88 748.46L149.88 755.28M148.08 748.46L151.68 748.46M148.08 755.28L151.68 755.28" stroke="#06ec14" stroke-width="1" fill="none"/><rect x="147.58" y="749.57" width="4.6" height="4.6" fill="#06ec14"/><path d="M166.45 745.27L166.45 752.09M164.65 745.27L168.25 745.27M164.65 752.09L168.25 752.09" stroke="#06ec14" stroke-width="1" fill="none"/><rect x="164.15" y="746.38" width="4.6" height="4.6" fill="#06ec14"/><path d="M184.21 735.7L184.21 742.52M182.41 735.7L186.01 735.7M182.41 742.52L186.01 742.52" stroke="#06ec14" stroke-width="1" fill="none"/><rect x="181.91" y="736.81" width="4.6" height="4.6" fill="#06ec14"/><path d="M201.97 725.07L201.97 731.89M200.17 725.07L203.77 725.07M200.17 731.89L203.77 731.89" stroke="#06ec14" stroke-width="1" fill="none"/><rect x="199.67" y="726.18" width="4.6" height="4.6" fill="#06ec14"/><path d="M218.55 702.73L218.55 709.55M216.75 702.73L220.35 702.73M216.75 709.55L220.35 709.55" stroke="#06ec14" stroke-width="1" fill="none"/><rect x="216.25" y="703.84" width="4.6" height="4.6" fill="#06ec14"/><path d="M222.1 697.42L222.1 704.24M220.3 697.42L223.9 697.42M220.3 704.24L223.9 704.24" stroke="#06ec14" stroke-width="1" fill="none"/><rect x="219.8" y="698.53" width="4.6" height="4.6" fill="#06ec14"/><path d="M225.65 692.1L225.65 698.92M223.85 692.1L227.45 692.1M223.85 698.92L227.45 698.92" stroke="#06ec14" stroke-width="1" fill="none"/><rect x="223.35" y="693.21" width="4.6" height="4.6" fill="#06ec14"/><path d="M229.2 682.53L229.2 689.35M227.4 682.53L231 682.53M227.4 689.35L231 689.35" stroke="#06ec14" stroke-width="1" fill="none"/><rect x="226.9" y="683.64" width="4.6" height="4.6" fill="#06ec14"/><path d="M232.76 672.42L232.76 679.24M230.96 672.42L234.56 672.42M230.96 679.24L234.56 679.24" stroke="#06ec14" stroke-width="1" fill="none"/><rect x="230.46" y="673.53" width="4.6" height="4.6" fill="#06ec14"/>
<path d="M133.3 750.59L133.3 757.41M131.5 750.59L135.1 750.59M131.5 757.41L135.1 757.41" stroke="#000000" stroke-width="1" fill="none"/><circle cx="133.3" cy="754" r="2.6" fill="#000000"/><path d="M143.78 748.99L143.78 755.81M141.98 748.99L145.58 748.99M141.98 755.81L145.58 755.81" stroke="#000000" stroke-width="1" fill="none"/><circle cx="143.78" cy="752.4" r="2.6" fill="#000000"/><path d="M154.26 747.4L154.26 754.22M152.46 747.4L156.06 747.4M152.46 754.22L156.06 754.22" stroke="#000000" stroke-width="1" fill="none"/><circle cx="154.26" cy="750.81" r="2.6" fill="#000000"/><path d="M164.37 746.34L164.37 753.16M162.57 746.34L166.17 746.34M162.57 753.16L166.17 753.16" stroke="#000000" stroke-width="1" fill="none"/><circle cx="164.37" cy="749.75" r="2.6" fill="#000000"/><path d="M175.23 744.74L175.23 751.56M173.43 744.74L177.03 744.74M173.43 751.56L177.03 751.56" stroke="#000000" stroke-width="1" fill="none"/><circle cx="175.23" cy="748.15" r="2.6" fill="#000000"/><path d="M185.71 742.61L185.71 749.43M183.91 742.61L187.51 742.61M183.91 749.43L187.51 749.43" stroke="#000000" stroke-width="1" fill="none"/><circle cx="185.71" cy="746.02" r="2.6" fill="#000000"/><path d="M196.19 735.7L196.19 742.52M194.39 735.7L197.99 735.7M194.39 742.52L197.99 742.52" stroke="#000000" stroke-width="1" fill="none"/><circle cx="196.19" cy="739.11" r="2.6" fill="#000000"/><path d="M206.67 730.38L206.67 737.2M204.87 730.38L208.47 730.38M204.87 737.2L208.47 737.2" stroke="#000000" stroke-width="1" fill="none"/><circle cx="206.67" cy="733.79" r="2.6" fill="#000000"/><path d="M217.6 713.37L217.6 720.19M215.8 713.37L219.4 713.37M215.8 720.19L219.4 720.19" stroke="#000000" stroke-width="1" fill="none"/><circle cx="217.6" cy="716.78" r="2.6" fill="#000000"/><path d="M228.09 704.86L228.09 711.68M226.29 704.86L229.89 704.86M226.29 711.68L229.89 711.68" stroke="#000000" stroke-width="1" fill="none"/><circle cx="228.09" cy="708.27" r="2.6" fill="#000000"/><path d="M231.38 697.42L231.38 704.24M229.58 697.42L233.18 697.42M229.58 704.24L233.18 704.24" stroke="#000000" stroke-width="1" fill="none"/><circle cx="231.38" cy="700.83" r="2.6" fill="#000000"/><path d="M233.63 689.44L233.63 696.26M231.83 689.44L235.43 689.44M231.83 696.26L235.43 696.26" stroke="#000000" stroke-width="1" fill="none"/><circle cx="233.63" cy="692.85" r="2.6" fill="#000000"/><path d="M235.87 679.34L235.87 686.16M234.07 679.34L237.67 679.34M234.07 686.16L237.67 686.16" stroke="#000000" stroke-width="1" fill="none"/><circle cx="235.87" cy="682.75" r="2.6" fill="#000000"/>
<path d="M133.3 750.59L133.3 757.41M131.5 750.59L135.1 750.59M131.5 757.41L135.1 757.41" stroke="#0000f0" stroke-width="1" fill="none"/><path d="M133.3 750.87L136.3 756.27L130.3 756.27Z" fill="#0000f0"/><path d="M141.77 747.4L141.77 754.22M139.97 747.4L143.57 747.4M139.97 754.22L143.57 754.22" stroke="#0000f0" stroke-width="1" fill="none"/><path d="M141.77 747.68L144.77 753.08L138.77 753.08Z" fill="#0000f0"/><path d="M150.24 746.87L150.24 753.69M148.44 746.87L152.04 746.87M148.44 753.69L152.04 753.69" stroke="#0000f0" stroke-width="1" fill="none"/><path d="M150.24 747.15L153.24 752.55L147.24 752.55Z" fill="#0000f0"/><path d="M158.41 746.34L158.41 753.16M156.61 746.34L160.21 746.34M156.61 753.16L160.21 753.16" stroke="#0000f0" stroke-width="1" fill="none"/><path d="M158.41 746.61L161.41 752.01L155.41 752.01Z" fill="#0000f0"/><path d="M167.18 743.68L167.18 750.5M165.38 743.68L168.98 743.68M165.38 750.5L168.98 750.5" stroke="#0000f0" stroke-width="1" fill="none"/><path d="M167.18 743.96L170.18 749.36L164.18 749.36Z" fill="#0000f0"/><path d="M175.65 741.02L175.65 747.84M173.85 741.02L177.45 741.02M173.85 747.84L177.45 747.84" stroke="#0000f0" stroke-width="1" fill="none"/><path d="M175.65 741.3L178.65 746.7L172.65 746.7Z" fill="#0000f0"/><path d="M184.43 737.83L184.43 744.65M182.63 737.83L186.23 737.83M182.63 744.65L186.23 744.65" stroke="#0000f0" stroke-width="1" fill="none"/><path d="M184.43 738.11L187.43 743.51L181.43 743.51Z" fill="#0000f0"/><path d="M192.6 735.7L192.6 742.52M190.8 735.7L194.4 735.7M190.8 742.52L194.4 742.52" stroke="#0000f0" stroke-width="1" fill="none"/><path d="M192.6 735.98L195.6 741.38L189.6 741.38Z" fill="#0000f0"/><path d="M201.43 725.07L201.43 731.89M199.63 725.07L203.23 725.07M199.63 731.89L203.23 731.89" stroke="#0000f0" stroke-width="1" fill="none"/><path d="M201.43 725.34L204.43 730.74L198.43 730.74Z" fill="#0000f0"/><path d="M210.14 726.13L210.14 732.95M208.34 726.13L211.94 726.13M208.34 732.95L211.94 732.95" stroke="#0000f0" stroke-width="1" fill="none"/><path d="M210.14 726.41L213.14 731.81L207.14 731.81Z" fill="#0000f0"/><path d="M218.61 717.62L218.61 724.44M216.81 717.62L220.41 717.62M216.81 724.44L220.41 724.44" stroke="#0000f0" stroke-width="1" fill="none"/><path d="M218.61 717.9L221.61 723.3L215.61 723.3Z" fill="#0000f0"/><path d="M227.08 706.99L227.08 713.81M225.28 706.99L228.88 706.99M225.28 713.81L228.88 713.81" stroke="#0000f0" stroke-width="1" fill="none"/><path d="M227.08 707.26L230.08 712.66L224.08 712.66Z" fill="#0000f0"/><path d="M229.5 699.54L229.5 706.36M227.7 699.54L231.3 699.54M227.7 706.36L231.3 706.36" stroke="#0000f0" stroke-width="1" fill="none"/><path d="M229.5 699.82L232.5 705.22L226.5 705.22Z" fill="#0000f0"/><path d="M231.62 693.16L231.62 699.98M229.82 693.16L233.42 693.16M229.82 699.98L233.42 699.98" stroke="#0000f0" stroke-width="1" fill="none"/><path d="M231.62 693.44L234.62 698.84L228.62 698.84Z" fill="#0000f0"/><path d="M233.74 686.78L233.74 693.6M231.94 686.78L235.54 686.78M231.94 693.6L235.54 693.6" stroke="#0000f0" stroke-width="1" fill="none"/><path d="M233.74 687.06L236.74 692.46L230.74 692.46Z" fill="#0000f0"/>
<path d="M229.08 674.23L235.48 680.63M229.08 680.63L235.48 674.23" stroke="#ea0a14" stroke-width="1.5" fill="none" stroke-linecap="butt"/>
<path d="M232.97 680.61L239.37 687.01M232.97 687.01L239.37 680.61" stroke="#ea0a14" stroke-width="1.5" fill="none" stroke-linecap="butt"/>
<path d="M231.14 683.8L237.54 690.2M231.14 690.2L237.54 683.8" stroke="#ea0a14" stroke-width="1.5" fill="none" stroke-linecap="butt"/>
</g>
</svg></body></html>
